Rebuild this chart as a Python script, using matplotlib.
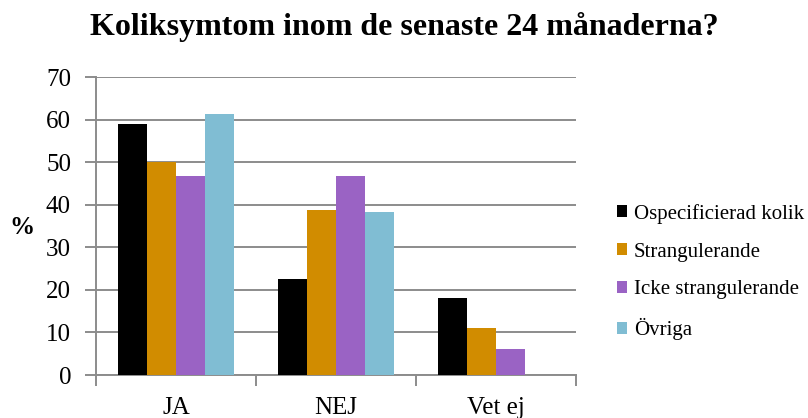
import matplotlib.pyplot as plt
import numpy as np

plt.rcParams['font.family'] = ['Liberation Serif', 'DejaVu Serif']

# Data
categories = ["JA", "NEJ", "Vet ej"]
series_names = ["Ospecificierad kolik", "Strangulerande", "Icke strangulerande", "Övriga"]
ospecificierad = [59.0, 22.5, 18.0]
strangulerande = [50.0, 38.7, 11.0]
icke_strang = [46.8, 46.8, 6.1]
ovriga = [61.4, 38.4, 0.0]
colors = ["#000000", "#D18C00", "#9A63C4", "#80BDD3"]

series = [ospecificierad, strangulerande, icke_strang, ovriga]

fig = plt.figure(figsize=(8.08, 4.18), dpi=100)
ax = fig.add_axes([96/808, 43/418, 480/808, 298/418])

grid_col = "#8C8C8C"
n = len(series)
width = 0.181
centers = np.arange(len(categories)) + 0.5
bars = []
for j, (vals, col, name) in enumerate(zip(series, colors, series_names)):
    b = ax.bar(centers + (j - (n - 1) / 2) * width, vals, width, color=col, label=name, zorder=3)
    bars.append(b)

ax.set_xlim(0, 3)
ax.set_ylim(0, 70)
ax.set_yticks(np.arange(0, 71, 10))
ax.yaxis.grid(True, color=grid_col, linewidth=1.4, zorder=0)
ax.set_axisbelow(True)

# boundaries as major ticks, labels on minor ticks
ax.set_xticks([0, 1, 2, 3])
ax.set_xticklabels([])
ax.set_xticks(centers, minor=True)
ax.set_xticklabels(categories, minor=True)
ax.tick_params(axis='x', which='major', length=8, width=1.4, color=grid_col, direction='out')
ax.tick_params(axis='x', which='minor', length=0, labelsize=18, pad=16)
ax.tick_params(axis='y', length=8, width=1.4, color=grid_col, labelsize=18, pad=10)

for s in ['top', 'right']:
    ax.spines[s].set_visible(False)
for s in ['left', 'bottom']:
    ax.spines[s].set_color(grid_col)
    ax.spines[s].set_linewidth(1.4)

fig.text(0.5, 1 - 27/418, "Koliksymtom inom de senaste 24 månaderna?",
         ha='center', va='center', fontsize=23, fontweight='bold')
fig.text(22/808, 1 - 228/418, "%", ha='center', va='center', fontsize=18, fontweight='bold')

fig.legend(handles=bars, labels=series_names, loc='center left',
           bbox_to_anchor=(617/808, 1 - 272/418), frameon=False, fontsize=15,
           handlelength=0.5, handleheight=0.5, handletextpad=0.3,
           labelspacing=0.9, borderaxespad=0, borderpad=0)

plt.savefig("out.png", dpi=100)
